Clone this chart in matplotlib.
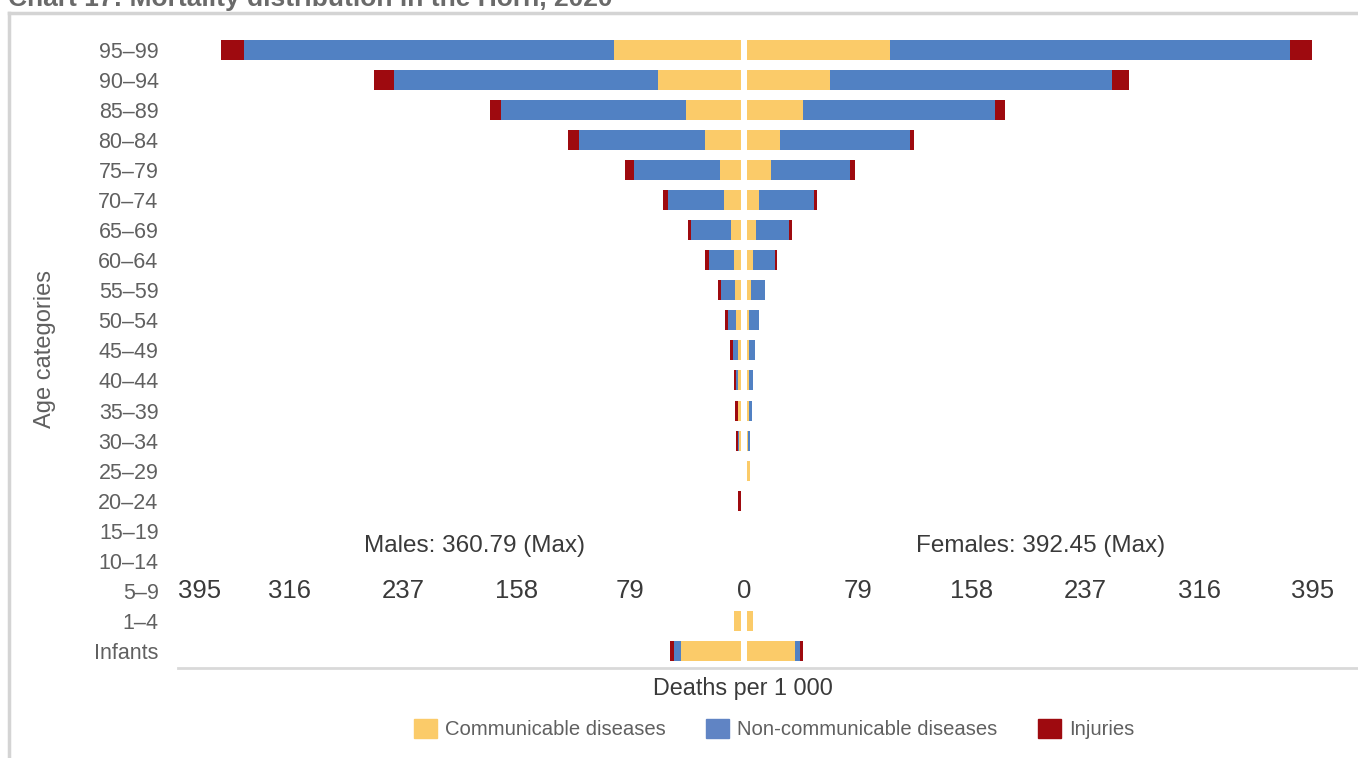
import matplotlib.pyplot as plt
from matplotlib.patches import Patch
from matplotlib.lines import Line2D

ages = ['95–99', '90–94', '85–89', '80–84', '75–79', '70–74', '65–69', '60–64',
        '55–59', '50–54', '45–49', '40–44', '35–39', '30–34', '25–29', '20–24',
        '15–19', '10–14', '5–9', '1–4', 'Infants']

# deaths per 1 000, males
male_cd = [88.5, 57.6, 38.2, 25.0, 14.6, 11.8, 6.9, 4.9, 4.2, 3.5, 2.1, 2.1, 2.1, 1.4,
           0, 0, 0, 0, 0, 4.9, 41.7]
male_ncd = [256.8, 183.3, 128.5, 87.5, 59.7, 38.9, 27.8, 17.4, 9.7, 5.6, 3.5, 1.4, 0.3, 0.7,
            0, 0, 0, 0, 0, 0, 4.9]
male_inj = [15.5, 13.9, 7.6, 7.6, 6.3, 3.5, 2.1, 2.8, 2.1, 2.1, 2.1, 1.4, 2.1, 1.4,
            0, 2.1, 0, 0, 0, 0, 2.8]

# deaths per 1 000, females
female_cd = [99.4, 57.4, 38.9, 22.9, 16.3, 8.3, 6.3, 4.2, 2.8, 1.4, 1.4, 1.4, 1.4, 0.7,
             2.1, 0, 0, 0, 0, 4.2, 33.3]
female_ncd = [277.8, 196.1, 133.3, 90.3, 55.0, 38.2, 22.9, 15.3, 9.7, 6.9, 4.2, 2.8, 2.1, 1.4,
              0, 0, 0, 0, 0, 0, 3.5]
female_inj = [15.25, 11.8, 6.7, 2.8, 3.5, 2.1, 2.1, 1.4, 0, 0, 0, 0, 0, 0,
              0, 0, 0, 0, 0, 0, 2.1]

ticks = [395, 316, 237, 158, 79, 0, 79, 158, 237, 316, 395]
tick_pos = [-395, -316, -237, -158, -79, 0, 79, 158, 237, 316, 395]

C_CD = '#FBCB69'
C_NCD = '#5181C3'
C_INJ = '#9E0A0F'
TXT = '#606060'
DARK = '#3a3a3a'

plt.rcParams['font.family'] = ['Liberation Sans', 'DejaVu Sans']

fig = plt.figure(figsize=(13.58, 7.58), dpi=100)
ax = fig.add_axes([178 / 1358, 1 - 668 / 758, 1180 / 1358, (668 - 30) / 758])

n = len(ages)
ys = [n - 1 - i for i in range(n)]
gap = 2.1
h = 0.666

# males go left, females go right
l1 = [-(gap + v) for v in male_cd]
ax.barh(ys, male_cd, left=l1, height=h, color=C_CD)
l2 = [a - v for a, v in zip(l1, male_ncd)]
ax.barh(ys, male_ncd, left=l2, height=h, color=C_NCD)
l3 = [a - v for a, v in zip(l2, male_inj)]
ax.barh(ys, male_inj, left=l3, height=h, color=C_INJ)

r1 = [gap] * n
ax.barh(ys, female_cd, left=r1, height=h, color=C_CD)
r2 = [a + v for a, v in zip(r1, female_cd)]
ax.barh(ys, female_ncd, left=r2, height=h, color=C_NCD)
r3 = [a + v for a, v in zip(r2, female_ncd)]
ax.barh(ys, female_inj, left=r3, height=h, color=C_INJ)

ax.set_xlim(-393.1, 426.4)
ax.set_ylim(-0.566, n - 1 + 0.66)

ax.set_yticks(ys)
ax.set_yticklabels(ages, fontsize=15.5, color=TXT)
ax.tick_params(axis='y', length=0, pad=14)
ax.set_xticks([])

for s in ['top', 'right', 'left']:
    ax.spines[s].set_visible(False)
ax.spines['bottom'].set_color('#d9d9d9')
ax.spines['bottom'].set_linewidth(2)

# tick labels drawn inside the plot, at the 5–9 row
row_59 = ys[ages.index('5–9')]
for t, p in zip(ticks, tick_pos):
    if p == tick_pos[0]:
        ax.text(-393.1, row_59, str(t), ha='left', va='center', fontsize=18.5, color=DARK)
    else:
        ax.text(p, row_59, str(t), ha='center', va='center', fontsize=18.5, color=DARK)

row_lbl = ys[ages.index('15–19')] - 0.5
ax.text(-187, row_lbl, 'Males: 360.79 (Max)', ha='center', va='center', fontsize=17.5, color=DARK)
ax.text(206, row_lbl, 'Females: 392.45 (Max)', ha='center', va='center', fontsize=17.5, color=DARK)

fig.text(743 / 1358, 1 - 688 / 758, 'Deaths per 1 000', ha='center', va='center', fontsize=16.8, color=DARK)
fig.text(45 / 1358, 1 - 349 / 758, 'Age categories', ha='center', va='center', rotation=90,
         fontsize=17, color=TXT)

# title, cut by the top edge
fig.text(8 / 1358, 1 - 6 / 758, 'Chart 17: Mortality distribution in the Horn, 2020', ha='left',
         va='baseline', fontsize=19, color='#6a6a6a', fontweight='bold')

# panel frame
fig.add_artist(Line2D([9 / 1358, 1], [1 - 13 / 758, 1 - 13 / 758], color='#d4d4d4', lw=2.5))
fig.add_artist(Line2D([9 / 1358, 9 / 1358], [0, 1 - 13 / 758], color='#d4d4d4', lw=2.5))

handles = [Patch(color=C_CD, label='Communicable diseases'),
           Patch(color='#6084C4', label='Non-communicable diseases'),
           Patch(color=C_INJ, label='Injuries')]
fig.legend(handles=handles, loc='center', bbox_to_anchor=(774 / 1358, 1 - 729 / 758), ncol=3,
           frameon=False, fontsize=14.6, handlelength=1.13, handleheight=1.13, handletextpad=0.4,
           columnspacing=2.0, labelcolor=TXT)

fig.savefig('out.png', dpi=100)
